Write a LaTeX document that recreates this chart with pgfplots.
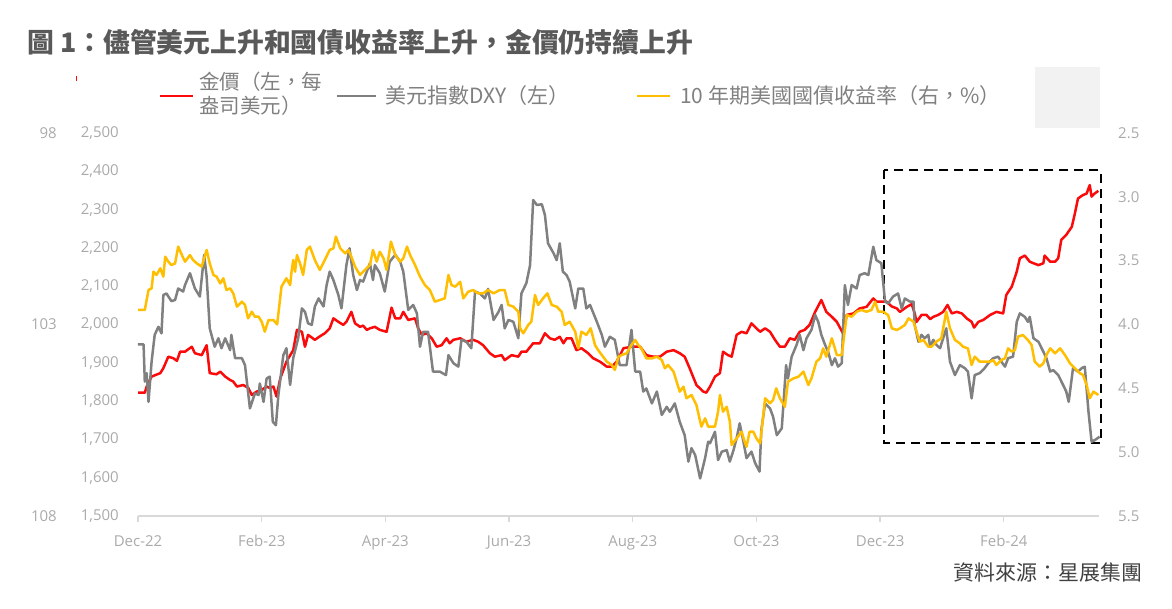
\documentclass[border=0pt]{standalone}
\usepackage{fontspec}
\setmainfont{Open Sans}
\newfontfamily\cjk{Noto Sans CJK TC}
\usepackage{pgfplots}
\pgfplotsset{compat=1.18}
\definecolor{goldred}{RGB}{250,10,10}
\definecolor{dxygray}{RGB}{128,128,128}
\definecolor{yieldyel}{RGB}{255,190,0}
\definecolor{ticklab}{RGB}{170,170,170}
\definecolor{legtext}{RGB}{128,128,128}
\definecolor{titlecol}{RGB}{89,89,89}
\definecolor{srccol}{RGB}{64,64,64}
\definecolor{axcol}{RGB}{217,217,217}
\pgfplotsset{
  base/.style={at={(138pt,92pt)}, anchor=south west, width=961pt, height=383pt,
    scale only axis, xmin=0, xmax=15.54, clip=false,
    axis line style={draw=none},
    ticklabel style={font=\fontsize{15}{17}\selectfont, text=ticklab},
    /pgf/number format/assume math mode=true,
    scaled y ticks=false},
  ser/.style={line width=2.5pt, line join=round, mark=none},
}
\begin{document}
\begin{tikzpicture}[x=1pt,y=1pt]
\path[use as bounding box] (0,0) rectangle (1172,608);
% title
\node[anchor=west, text=titlecol, font=\cjk\bfseries\fontsize{26.8}{30}\selectfont, inner sep=0pt] at (27,566) {圖 1：儘管美元上升和國債收益率上升，金價仍持續上升};
% decorations
\fill[black!5] (1035,480) rectangle (1100,541);
\draw[goldred, line width=1pt] (76,532) -- (76,527);
% legend
\draw[goldred, line width=2.5pt] (160,512) -- (193,512);
\node[anchor=west, align=left, text=legtext, font=\cjk\fontsize{20.5}{24}\selectfont, inner sep=0pt] at (199,514) {金價（左，每\\盎司美元）};
\draw[dxygray, line width=2.5pt] (337,512) -- (376,512);
\node[anchor=west, text=legtext, font=\cjk\fontsize{21}{24}\selectfont, inner sep=0pt] at (385,512) {美元指數DXY（左）};
\draw[yieldyel, line width=2.5pt] (637,512) -- (670,512);
\node[anchor=west, text=legtext, font=\cjk\fontsize{21}{24}\selectfont, inner sep=0pt] at (680,512) {10 年期美國國債收益率（右，\%）};
% source
\node[anchor=east, text=srccol, font=\cjk\fontsize{21}{24}\selectfont, inner sep=0pt] at (1143,36) {資料來源：星展集團};

% gold axis
\begin{axis}[base, ymin=1500, ymax=2500,
  ytick={1500,1600,1700,1800,1900,2000,2100,2200,2300,2400,2500},
  yticklabel style={/pgf/number format/1000 sep={,}, anchor=east, inner sep=0pt, xshift=-19pt},
  ytick style={draw=none},
  axis x line*=bottom, axis y line*=left,
  x axis line style={draw=axcol, line width=1.3pt, -},
  xtick={0,2,4,6,8,10,12,14},
  xticklabels={Dec-22,Feb-23,Apr-23,Jun-23,Aug-23,Oct-23,Dec-23,Feb-24},
  xtick align=outside, major tick length=6pt,
  xtick style={draw=axcol, line width=1.2pt},
  xticklabel style={anchor=north, inner sep=0pt, yshift=-13pt},
]
\addplot[ser, goldred] coordinates {
(0.00,1822) (0.11,1822) (0.14,1838) (0.22,1864) (0.36,1873) (0.41,1886) (0.49,1916) (0.57,1912) (0.63,1905) (0.68,1929) (0.76,1929) (0.87,1942) (0.92,1925) (1.03,1920) (1.11,1946) (1.16,1873) (1.27,1870) (1.33,1877) (1.41,1864) (1.49,1855) (1.54,1851) (1.60,1838) (1.70,1842) (1.78,1835) (1.84,1816) (1.92,1825) (2.00,1829) (2.08,1838) (2.13,1834) (2.19,1838) (2.24,1812) (2.30,1859) (2.40,1903) (2.51,1933) (2.57,1986) (2.65,1981) (2.70,1942) (2.75,1973) (2.86,1960) (2.94,1969) (3.02,1977) (3.10,1990) (3.16,2016) (3.24,2007) (3.32,1999) (3.37,2007) (3.45,2033) (3.51,2003) (3.59,1994) (3.64,1997) (3.70,1986) (3.75,1990) (3.83,1994) (3.91,1986) (4.02,1981) (4.07,2020) (4.10,2044) (4.16,2016) (4.24,2016) (4.29,2033) (4.37,2012) (4.48,2016) (4.53,1990) (4.59,1973) (4.67,1977) (4.75,1964) (4.83,1942) (4.91,1946) (4.99,1964) (5.04,1951) (5.10,1960) (5.21,1964) (5.31,1955) (5.42,1960) (5.50,1955) (5.58,1946) (5.69,1925) (5.77,1916) (5.88,1920) (5.93,1907) (6.04,1920) (6.15,1916) (6.20,1929) (6.28,1929) (6.39,1951) (6.50,1951) (6.58,1977) (6.66,1964) (6.74,1960) (6.82,1968) (6.88,1951) (6.93,1964) (7.01,1964) (7.09,1933) (7.17,1938) (7.28,1925) (7.36,1912) (7.47,1903) (7.58,1890) (7.66,1890) (7.74,1903) (7.85,1938) (7.98,1942) (8.12,1942) (8.22,1920) (8.33,1916) (8.44,1916) (8.55,1929) (8.66,1933) (8.76,1925) (8.84,1916) (8.92,1886) (9.03,1842) (9.14,1825) (9.19,1822) (9.25,1838) (9.33,1864) (9.41,1873) (9.46,1929) (9.54,1920) (9.60,1916) (9.68,1973) (9.76,1981) (9.84,1977) (9.92,2003) (10.00,1990) (10.06,1981) (10.14,1990) (10.22,1981) (10.30,1960) (10.38,1942) (10.46,1942) (10.54,1964) (10.62,1960) (10.70,1981) (10.78,1986) (10.86,1999) (10.95,2033) (11.05,2064) (11.13,2033) (11.22,2020) (11.30,2007) (11.40,1977) (11.46,2025) (11.57,2029) (11.67,2042) (11.78,2046) (11.89,2068) (11.94,2060) (12.02,2060) (12.10,2060) (12.19,2047) (12.27,2042) (12.32,2033) (12.43,2046) (12.51,2053) (12.56,2029) (12.59,2007) (12.67,2025) (12.75,2025) (12.81,2014) (12.86,2020) (12.94,2025) (13.02,2033) (13.09,2051) (13.16,2029) (13.24,2033) (13.32,2029) (13.40,2016) (13.48,2007) (13.52,1992) (13.59,2007) (13.67,2012) (13.78,2025) (13.88,2033) (13.99,2029) (14.04,2077) (14.13,2099) (14.21,2138) (14.26,2173) (14.34,2180) (14.42,2164) (14.48,2160) (14.56,2155) (14.64,2160) (14.66,2180) (14.75,2164) (14.83,2164) (14.88,2173) (14.93,2221) (15.01,2234) (15.10,2255) (15.15,2290) (15.20,2329) (15.28,2338) (15.34,2342) (15.39,2364) (15.42,2334) (15.47,2342) (15.53,2349)
};
\draw[black, line width=2.5pt, dash pattern=on 9pt off 6pt] (axis cs:12.06,2403) rectangle (axis cs:15.57,1691);
\end{axis}

% DXY axis (reversed, left outer labels)
\begin{axis}[base, ymin=98, ymax=108, y dir=reverse,
  ytick={98,103,108}, xtick=\empty,
  ytick style={draw=none},
  yticklabel style={anchor=east, inner sep=0pt, xshift=-81pt},
]
\addplot[ser, dxygray] coordinates {
(0.00,103.52) (0.09,103.52) (0.11,104.49) (0.14,104.27) (0.17,105.02) (0.22,103.97) (0.27,103.27) (0.33,103.06) (0.38,103.23) (0.41,102.23) (0.46,102.19) (0.54,102.39) (0.60,102.36) (0.65,102.06) (0.73,102.14) (0.76,101.97) (0.84,101.66) (0.92,102.06) (1.00,102.27) (1.07,101.18) (1.11,101.75) (1.16,103.10) (1.24,103.58) (1.30,103.36) (1.35,103.62) (1.41,103.36) (1.49,103.67) (1.51,103.27) (1.57,103.88) (1.68,103.88) (1.73,104.06) (1.81,105.19) (1.89,104.80) (1.95,104.84) (1.97,104.54) (2.03,105.02) (2.08,104.41) (2.13,104.36) (2.18,105.54) (2.23,105.63) (2.27,104.84) (2.35,103.80) (2.40,103.62) (2.46,104.58) (2.51,103.88) (2.59,103.36) (2.65,102.58) (2.70,102.67) (2.75,102.97) (2.81,103.01) (2.86,102.53) (2.92,102.32) (3.00,102.53) (3.05,101.97) (3.10,101.62) (3.16,101.84) (3.24,102.23) (3.29,102.58) (3.37,101.45) (3.42,101.01) (3.48,101.71) (3.54,102.10) (3.59,101.84) (3.64,101.88) (3.70,101.62) (3.75,101.40) (3.80,101.84) (3.83,101.45) (3.91,101.66) (3.99,102.14) (4.07,101.36) (4.16,101.18) (4.24,101.36) (4.29,101.62) (4.37,102.62) (4.45,102.49) (4.51,102.71) (4.56,103.58) (4.61,103.19) (4.69,103.19) (4.77,104.23) (4.88,104.23) (4.98,104.32) (5.02,103.80) (5.10,104.01) (5.18,104.10) (5.23,103.40) (5.31,103.45) (5.39,103.62) (5.45,102.14) (5.53,102.19) (5.61,102.32) (5.66,102.07) (5.75,102.88) (5.83,102.67) (5.88,102.49) (5.93,103.10) (5.99,102.88) (6.07,102.93) (6.15,103.36) (6.20,102.19) (6.28,101.92) (6.34,101.45) (6.39,99.75) (6.45,99.88) (6.53,99.86) (6.58,100.14) (6.63,100.88) (6.72,101.14) (6.77,101.32) (6.82,100.88) (6.87,101.62) (6.93,101.71) (6.98,101.88) (7.07,102.58) (7.12,102.06) (7.20,102.06) (7.25,102.58) (7.31,102.49) (7.42,102.93) (7.50,103.27) (7.55,103.58) (7.63,103.32) (7.71,103.40) (7.79,104.06) (7.90,104.06) (7.98,103.14) (8.04,104.23) (8.12,104.23) (8.17,104.75) (8.22,104.67) (8.31,105.06) (8.39,104.75) (8.47,105.36) (8.55,105.15) (8.60,105.28) (8.68,105.06) (8.76,105.54) (8.84,105.89) (8.90,106.58) (8.95,106.23) (9.01,106.41) (9.09,107.02) (9.17,106.49) (9.22,106.06) (9.25,106.10) (9.33,105.80) (9.38,106.54) (9.44,106.32) (9.52,106.28) (9.57,106.58) (9.63,106.28) (9.68,105.97) (9.73,105.58) (9.79,106.06) (9.84,106.49) (9.92,106.32) (9.98,106.62) (10.05,106.84) (10.08,105.75) (10.14,105.06) (10.22,105.19) (10.27,105.41) (10.33,105.89) (10.41,105.71) (10.48,104.06) (10.51,104.41) (10.57,103.84) (10.65,103.53) (10.70,103.27) (10.76,103.67) (10.81,103.36) (10.89,103.14) (10.95,102.75) (11.00,102.93) (11.05,103.27) (11.11,103.53) (11.16,103.71) (11.22,104.06) (11.27,103.88) (11.32,104.10) (11.38,104.01) (11.43,101.97) (11.48,102.49) (11.54,101.97) (11.62,102.06) (11.67,101.71) (11.75,101.66) (11.81,101.71) (11.89,100.97) (11.94,101.32) (12.02,101.40) (12.08,102.40) (12.13,102.45) (12.21,102.27) (12.29,102.19) (12.35,102.58) (12.40,102.32) (12.48,102.40) (12.54,102.40) (12.56,103.01) (12.62,103.45) (12.67,103.27) (12.72,103.36) (12.78,103.27) (12.81,103.58) (12.86,103.40) (12.91,103.53) (12.97,103.62) (13.02,103.36) (13.07,103.10) (13.13,103.97) (13.21,104.32) (13.29,104.06) (13.37,104.14) (13.42,104.23) (13.48,104.93) (13.53,104.32) (13.61,104.27) (13.69,104.14) (13.75,104.01) (13.83,103.88) (13.91,103.84) (13.96,103.97) (14.02,104.10) (14.07,103.88) (14.15,103.84) (14.21,102.93) (14.26,102.71) (14.34,102.80) (14.39,102.93) (14.42,102.80) (14.48,103.36) (14.56,103.45) (14.64,103.71) (14.69,103.88) (14.75,104.23) (14.80,104.19) (14.88,104.32) (14.96,104.58) (15.01,104.75) (15.05,105.02) (15.12,104.14) (15.20,104.23) (15.26,104.14) (15.31,104.10) (15.37,105.28) (15.42,106.06) (15.47,106.02) (15.55,105.93)
};
\end{axis}

% yield axis (reversed, right)
\begin{axis}[base, ymin=2.5, ymax=5.5, y dir=reverse,
  ytick={2.5,3,3.5,4,4.5,5,5.5}, xtick=\empty,
  ytick style={draw=none},
  yticklabel pos=right,
  yticklabel style={/pgf/number format/.cd, fixed, fixed zerofill, precision=1, /tikz/.cd, anchor=west, inner sep=0pt, xshift=19pt},
]
\addplot[ser, yieldyel] coordinates {
(0.00,3.886) (0.11,3.886) (0.17,3.730) (0.22,3.717) (0.25,3.586) (0.30,3.612) (0.36,3.560) (0.41,3.625) (0.44,3.469) (0.49,3.508) (0.54,3.534) (0.60,3.521) (0.65,3.390) (0.71,3.456) (0.76,3.508) (0.84,3.456) (0.89,3.495) (0.95,3.521) (1.03,3.547) (1.11,3.416) (1.16,3.521) (1.22,3.612) (1.27,3.625) (1.33,3.678) (1.38,3.638) (1.43,3.730) (1.49,3.717) (1.54,3.756) (1.60,3.860) (1.68,3.821) (1.73,3.847) (1.78,3.952) (1.84,3.900) (1.89,3.939) (1.95,3.939) (2.00,3.978) (2.05,4.056) (2.11,3.965) (2.19,3.965) (2.25,3.999) (2.32,3.704) (2.40,3.638) (2.46,3.691) (2.48,3.599) (2.51,3.495) (2.54,3.586) (2.57,3.456) (2.62,3.521) (2.67,3.612) (2.73,3.416) (2.78,3.390) (2.86,3.495) (2.94,3.573) (3.02,3.495) (3.10,3.416) (3.16,3.403) (3.20,3.312) (3.27,3.403) (3.35,3.443) (3.40,3.416) (3.45,3.469) (3.51,3.547) (3.59,3.612) (3.67,3.573) (3.75,3.534) (3.80,3.416) (3.86,3.508) (3.91,3.430) (3.97,3.482) (4.02,3.573) (4.09,3.351) (4.16,3.456) (4.24,3.508) (4.29,3.482) (4.35,3.390) (4.40,3.456) (4.48,3.534) (4.56,3.625) (4.64,3.691) (4.72,3.730) (4.80,3.821) (4.88,3.808) (4.96,3.795) (5.02,3.612) (5.07,3.691) (5.13,3.704) (5.21,3.665) (5.26,3.795) (5.34,3.743) (5.42,3.730) (5.50,3.756) (5.58,3.756) (5.66,3.730) (5.75,3.756) (5.85,3.730) (5.93,3.730) (5.99,3.847) (6.07,3.860) (6.15,3.900) (6.18,4.030) (6.23,4.069) (6.31,4.004) (6.36,3.978) (6.42,3.769) (6.47,3.847) (6.55,3.795) (6.62,3.756) (6.69,3.847) (6.77,3.860) (6.85,3.900) (6.90,4.004) (6.98,3.978) (7.07,4.056) (7.12,4.187) (7.17,4.056) (7.25,4.082) (7.32,4.030) (7.39,4.161) (7.44,4.200) (7.52,4.252) (7.58,4.291) (7.66,4.317) (7.71,4.356) (7.77,4.252) (7.82,4.239) (7.90,4.226) (7.98,4.161) (8.04,4.121) (8.09,4.161) (8.14,4.187) (8.22,4.265) (8.31,4.265) (8.39,4.252) (8.47,4.278) (8.52,4.343) (8.57,4.317) (8.66,4.369) (8.71,4.448) (8.76,4.526) (8.82,4.487) (8.87,4.578) (8.95,4.552) (9.03,4.631) (9.11,4.800) (9.17,4.735) (9.22,4.800) (9.28,4.800) (9.33,4.800) (9.38,4.683) (9.41,4.552) (9.46,4.683) (9.52,4.644) (9.57,4.761) (9.60,4.944) (9.68,4.892) (9.76,4.840) (9.81,4.918) (9.84,4.957) (9.89,4.840) (9.95,4.840) (10.00,4.892) (10.06,4.931) (10.10,4.761) (10.14,4.578) (10.22,4.617) (10.27,4.591) (10.32,4.500) (10.38,4.578) (10.46,4.644) (10.51,4.448) (10.60,4.422) (10.68,4.409) (10.76,4.369) (10.84,4.474) (10.89,4.422) (10.97,4.291) (11.03,4.265) (11.08,4.187) (11.13,4.252) (11.22,4.108) (11.30,4.239) (11.38,4.239) (11.46,3.926) (11.54,3.939) (11.62,3.900) (11.70,3.886) (11.78,3.900) (11.86,3.886) (11.92,3.821) (11.97,3.900) (12.05,3.900) (12.13,3.926) (12.19,4.030) (12.27,4.043) (12.32,4.030) (12.40,4.004) (12.46,3.952) (12.54,3.978) (12.59,4.056) (12.64,4.134) (12.70,4.121) (12.78,4.174) (12.83,4.174) (12.91,4.134) (12.99,4.108) (13.07,3.900) (13.13,4.030) (13.21,4.121) (13.29,4.148) (13.34,4.174) (13.42,4.187) (13.48,4.317) (13.53,4.252) (13.61,4.291) (13.69,4.291) (13.78,4.291) (13.83,4.278) (13.88,4.317) (13.96,4.278) (14.02,4.265) (14.07,4.187) (14.13,4.213) (14.18,4.200) (14.23,4.095) (14.31,4.082) (14.39,4.121) (14.45,4.161) (14.50,4.291) (14.58,4.330) (14.64,4.304) (14.69,4.239) (14.75,4.187) (14.83,4.226) (14.91,4.187) (14.99,4.239) (15.07,4.304) (15.15,4.343) (15.23,4.382) (15.28,4.395) (15.34,4.474) (15.39,4.578) (15.45,4.526) (15.53,4.552)
};
\end{axis}
\end{tikzpicture}
\end{document}
